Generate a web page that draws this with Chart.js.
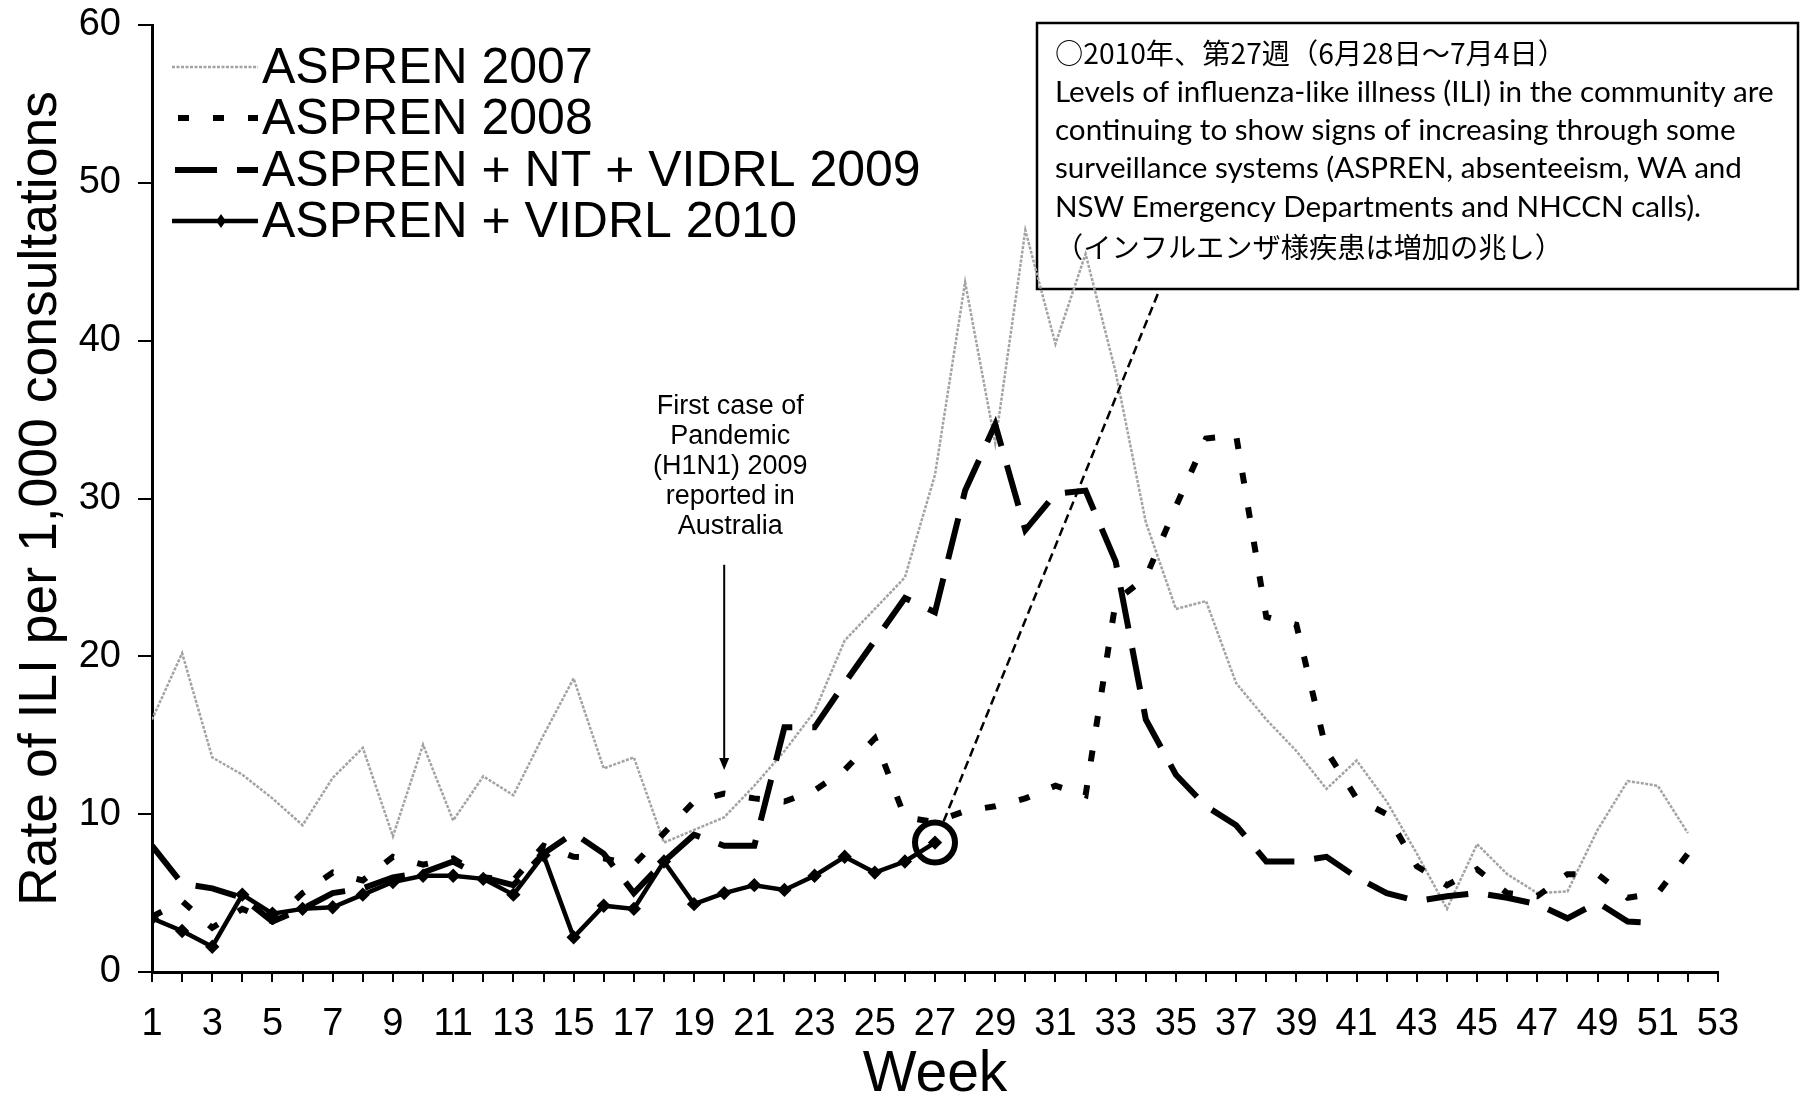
<!DOCTYPE html>
<html>
<head>
<meta charset="utf-8">
<script src="https://cdn.jsdelivr.net/npm/chart.js@4.4.1/dist/chart.umd.min.js"></script>
<style>
  html, body { margin: 0; padding: 0; background: #ffffff; }
  #wrap { width: 1801px; height: 1097px; position: relative; }
</style>
</head>
<body>
<div id="wrap"><canvas id="chart"></canvas></div>
<script>
// ---------------- DATA ----------------
const weeks = [1,2,3,4,5,6,7,8,9,10,11,12,13,14,15,16,17,18,19,20,21,22,23,24,25,26,
               27,28,29,30,31,32,33,34,35,36,37,38,39,40,41,42,43,44,45,46,47,48,49,50,51,52];
const xTickLabels = [1,3,5,7,9,11,13,15,17,19,21,23,25,27,29,31,33,35,37,39,41,43,45,47,49,51,53];
const yTicks = [0,10,20,30,40,50,60];

const seriesNames = ['ASPREN 2007', 'ASPREN 2008', 'ASPREN + NT + VIDRL 2009', 'ASPREN + VIDRL 2010'];

const aspren2007 = [16, 20.2, 13.6, 12.5, 11, 9.3, 12.3, 14.2, 8.6, 14.4, 9.6, 12.4, 11.2, 15, 18.6, 12.9,
  13.6, 8.2, 9, 9.8, 11.8, 14, 16.5, 21, 23, 25, 31.5, 43.7, 33.5, 47, 39.8, 45.5, 38, 28.5, 23, 23.5,
  18.3, 16, 14, 11.6, 13.4, 10.8, 7.5, 4.0, 8.1, 6.2, 5.0, 5.1, 9.0, 12.1, 11.8, 8.8];

const aspren2008 = [3.5, 4.5, 2.8, 4.0, 3.2, 5.0, 6.3, 5.8, 7.3, 6.8, 7.2, 6.0, 5.8, 8.0, 7.3, 7.2,
  6.8, 8.8, 10.8, 11.3, 11.0, 10.8, 11.5, 12.8, 14.8, 9.8, 9.5, 10.2, 10.5, 11.0, 11.8, 11.2, 23.5,
  25.0, 29.5, 33.8, 34.0, 22.5, 22.0, 14.0, 11.0, 10.0, 6.7, 5.5, 6.5, 5.0, 4.8, 6.2, 6.2, 4.7, 5.0, 7.5];

const aspren2009 = [8.0, 5.6, 5.3, 4.7, 3.2, 4.0, 5.0, 5.3, 6.0, 6.3, 7.0, 6.0, 5.5, 7.5, 8.8, 7.5,
  5.0, 7.0, 8.7, 8.0, 8.0, 15.5, 15.5, 18.3, 21.0, 23.7, 22.8, 30.5, 34.7, 28.0, 30.3, 30.5, 26.0,
  16.0, 12.5, 10.5, 9.3, 7.0, 7.0, 7.3, 6.0, 5.0, 4.5, 4.8, 5.0, 4.7, 4.3, 3.4, 4.4, 3.2, 3.1, null];

const aspren2010 = [3.4, 2.6, 1.6, 4.9, 3.7, 4.0, 4.1, 4.9, 5.7, 6.1, 6.1, 5.9, 4.9, 7.4, 2.2, 4.2,
  4.0, 7.0, 4.3, 5.0, 5.5, 5.2, 6.1, 7.3, 6.3, 7.0, 8.2,
  null, null, null, null, null, null, null, null, null, null, null, null, null, null, null, null,
  null, null, null, null, null, null, null, null, null];

// annotation anchors (in data units)
const circledWeek = 27;
const leaderEnd = { week: 34.47, value: 43.3 };
const arrowWeek = 20;
const arrowFrom = 25.8;
const arrowTo = 12.8;
const noteLines = ['First case of', 'Pandemic', '(H1N1) 2009', 'reported in', 'Australia'];
const boxLines = [
  '○2010年、第27週（6月28日～7月4日）',
  'Levels of influenza-like illness (ILI) in the community are',
  'continuing to show signs of increasing through some',
  'surveillance systems (ASPREN, absenteeism, WA and',
  'NSW Emergency Departments and NHCCN calls).',
  '（インフルエンザ様疾患は増加の兆し）'
];

// ---------------- PLUGINS ----------------
const refLegend = {
  id: 'refLegend',
  afterDatasetsDraw(chart) {
    const ctx = chart.ctx;
    const rowY = [67, 118, 170, 221];
    const x0 = 172, x1 = 258, tx = 262;
    ctx.save();
    chart.data.datasets.forEach((ds, i) => {
      const y = rowY[i];
      ctx.beginPath();
      ctx.setLineDash(ds.borderDash || []);
      ctx.lineWidth = ds.borderWidth;
      ctx.strokeStyle = ds.borderColor;
      ctx.lineCap = 'butt';
      ctx.moveTo(x0 + (ds.legendOffset || 0), y);
      ctx.lineTo(x1, y);
      ctx.stroke();
      ctx.setLineDash([]);
      if (ds.pointRadius > 0) {
        const r = ds.pointRadius + 3;
        const cx = (x0 + x1) / 2 + 6;
        ctx.beginPath();
        ctx.moveTo(cx, y - r); ctx.lineTo(cx + r * 0.7, y); ctx.lineTo(cx, y + r); ctx.lineTo(cx - r * 0.7, y);
        ctx.closePath();
        ctx.fillStyle = '#000';
        ctx.fill();
      }
      ctx.fillStyle = '#000';
      ctx.font = '50px "Liberation Sans", Arial, sans-serif';
      ctx.textBaseline = 'middle';
      ctx.textAlign = 'left';
      ctx.fillText(ds.label, tx, y + 2);
    });
    ctx.restore();
  }
};

function fitFont(ctx, text, family, base, target) {
  ctx.font = base + 'px ' + family;
  const w = ctx.measureText(text).width;
  return base * target / w;
}

const refAnnotations = {
  id: 'refAnnotations',
  beforeDatasetsDraw(chart) {
    const ctx = chart.ctx;
    const bx = 1037, by = 23, bw = 761, bh = 266;
    ctx.save();
    ctx.fillStyle = '#ffffff';
    ctx.fillRect(bx, by, bw, bh);
    ctx.lineWidth = 2.5;
    ctx.strokeStyle = '#000';
    ctx.strokeRect(bx, by, bw, bh);

    const enFam = '"Lato", "Noto Sans", sans-serif';
    const jpFam = '"Noto Sans CJK JP", sans-serif';
    const enSize = fitFont(ctx, boxLines[1], enFam, 24, 719);
    const jpSize = fitFont(ctx, boxLines[5], jpFam, 26, 508);
    const lineY = [53, 92, 130, 168, 207, 247];
    ctx.fillStyle = '#000';
    ctx.textBaseline = 'middle';
    ctx.textAlign = 'left';
    boxLines.forEach((t, i) => {
      const jp = (i === 0 || i === 5);
      ctx.font = (jp ? jpSize : enSize) + 'px ' + (jp ? jpFam : enFam);
      ctx.fillText(t, 1055, lineY[i]);
    });
    ctx.restore();
  },
  afterDatasetsDraw(chart) {
    const ctx = chart.ctx;
    const xs = chart.scales.x, ys = chart.scales.y;
    ctx.save();
    // circle around week 27 point
    const cx = xs.getPixelForValue(circledWeek);
    const cy = ys.getPixelForValue(aspren2010[weeks.indexOf(circledWeek)]);
    ctx.beginPath();
    ctx.arc(cx, cy, 20, 0, Math.PI * 2);
    ctx.lineWidth = 6;
    ctx.strokeStyle = '#000';
    ctx.stroke();
    // dashed leader line to note box
    const ex = xs.getPixelForValue(leaderEnd.week), ey = ys.getPixelForValue(leaderEnd.value);
    const ang = Math.atan2(ey - cy, ex - cx);
    ctx.beginPath();
    ctx.setLineDash([9, 5]);
    ctx.lineWidth = 2.5;
    ctx.moveTo(cx + 23 * Math.cos(ang), cy + 23 * Math.sin(ang));
    ctx.lineTo(ex, ey);
    ctx.stroke();
    ctx.setLineDash([]);
    // arrow
    const ax = xs.getPixelForValue(arrowWeek);
    const ay0 = ys.getPixelForValue(arrowFrom), ay1 = ys.getPixelForValue(arrowTo);
    ctx.beginPath();
    ctx.lineWidth = 2;
    ctx.moveTo(ax, ay0);
    ctx.lineTo(ax, ay1 - 8);
    ctx.stroke();
    ctx.beginPath();
    ctx.moveTo(ax - 5, ay1 - 12);
    ctx.lineTo(ax + 5, ay1 - 12);
    ctx.lineTo(ax, ay1);
    ctx.closePath();
    ctx.fillStyle = '#000';
    ctx.fill();
    // note text
    ctx.font = '27px "Liberation Sans", Arial, sans-serif';
    ctx.textAlign = 'center';
    ctx.textBaseline = 'middle';
    const tx = xs.getPixelForValue(arrowWeek) + 6;
    const firstY = ys.getPixelForValue(arrowFrom) - 158;
    noteLines.forEach((t, i) => ctx.fillText(t, tx, firstY + i * 30));
    ctx.restore();
  }
};

// ---------------- CHART ----------------
const ctx = document.getElementById('chart').getContext('2d');
new Chart(ctx, {
  type: 'line',
  data: {
    labels: weeks,
    datasets: [
      { label: seriesNames[0], data: aspren2007, borderColor: '#a3a3a3', borderWidth: 2.5,
        borderDash: [3, 1.5], pointRadius: 0, order: 3 },
      { label: seriesNames[1], data: aspren2008, borderColor: '#000000', borderWidth: 6,
        borderDash: [11, 24], pointRadius: 0, order: 2, legendOffset: 6 },
      { label: seriesNames[2], data: aspren2009, borderColor: '#000000', borderWidth: 6,
        borderDash: [42, 20], pointRadius: 0, order: 1, legendOffset: 3 },
      { label: seriesNames[3], data: aspren2010, borderColor: '#000000', borderWidth: 4.5,
        pointRadius: 4, pointStyle: 'rectRot', pointBackgroundColor: '#000', pointBorderColor: '#000',
        order: 0 }
    ]
  },
  options: {
    responsive: true,
    maintainAspectRatio: false,
    animation: false,
    devicePixelRatio: 1,
    spanGaps: false,
    elements: { line: { tension: 0, fill: false } },
    layout: { padding: { left: 0, right: 83, top: 25, bottom: 0 } },
    plugins: { legend: { display: false }, tooltip: { enabled: false } },
    scales: {
      x: {
        type: 'linear', min: 1, max: 53, offset: false,
        afterFit: (s) => { s.height = 125; },
        border: { display: true, color: '#000', width: 3 },
        grid: { display: true, drawOnChartArea: false, drawTicks: true, tickLength: 10, color: '#000', lineWidth: 2 },
        ticks: {
          stepSize: 1, autoSkip: false, maxRotation: 0, minRotation: 0, padding: 20, color: '#000',
          font: { family: '"Liberation Sans", Arial, sans-serif', size: 38 },
          callback: (v) => xTickLabels.includes(v) ? String(v) : ''
        },
        title: { display: true, text: 'Week', color: '#000',
          font: { family: '"Liberation Sans", Arial, sans-serif', size: 57, lineHeight: 1 },
          padding: { top: 0, bottom: -7 } }
      },
      y: {
        min: 0, max: 60,
        afterFit: (s) => { s.width = 152; s.paddingTop = 0; s.paddingBottom = 0; },
        afterBuildTicks: (s) => { s.ticks = yTicks.map(v => ({ value: v })); },
        border: { display: true, color: '#000', width: 3 },
        grid: { display: true, drawOnChartArea: false, drawTicks: true, tickLength: 14, color: '#000', lineWidth: 2 },
        ticks: { padding: 17, color: '#000',
          font: { family: '"Liberation Sans", Arial, sans-serif', size: 38 } },
        title: { display: true, text: 'Rate of ILI per 1,000 consultations', color: '#000',
          font: { family: '"Liberation Sans", Arial, sans-serif', size: 53.5, lineHeight: 1 },
          padding: { top: 14, bottom: 0 } }
      }
    }
  },
  plugins: [refAnnotations, refLegend]
});
</script>
</body>
</html>
